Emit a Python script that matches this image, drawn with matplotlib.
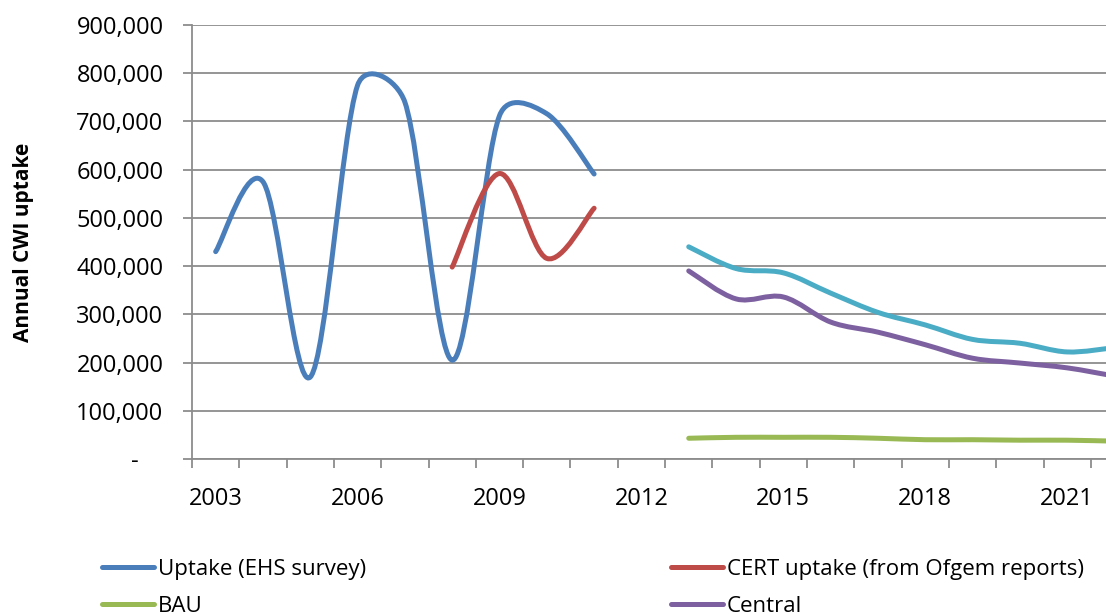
import numpy as np
import matplotlib
matplotlib.use("Agg")
import matplotlib.pyplot as plt
from matplotlib.path import Path
from matplotlib.patches import PathPatch
from matplotlib.lines import Line2D
from matplotlib.ticker import FuncFormatter, MultipleLocator, FixedLocator

plt.rcParams['font.family'] = ['Open Sans', 'DejaVu Sans']

# annual cavity wall insulation uptake
years_ehs = [2003, 2004, 2005, 2006, 2007, 2008, 2009, 2010, 2011]
uptake_ehs = [430000, 575000, 170000, 775000, 740000, 205000, 712000, 716000, 591000]

years_cert = [2008, 2009, 2010, 2011]
uptake_cert = [398000, 592000, 416000, 520000]

years_proj = [2013, 2014, 2015, 2016, 2017, 2018, 2019, 2020, 2021, 2022]
uptake_high = [440000, 395000, 386000, 344000, 304000, 278000, 248000, 240000, 222000, 231000]
uptake_central = [390000, 332000, 336000, 284000, 263000, 237000, 209000, 199000, 189000, 172000]
uptake_bau = [43000, 45000, 45000, 45000, 43000, 40000, 40000, 39000, 39000, 37000]

year_labels = [2003, 2006, 2009, 2012, 2015, 2018, 2021]

C_BLUE = '#4a7ebb'
C_RED = '#be4b48'
C_GREEN = '#98b954'
C_PURPLE = '#7d60a0'
C_CYAN = '#4bacc6'
GRID = '#8c8c8c'

fig = plt.figure(figsize=(11.06, 6.14), dpi=100)
ax = fig.add_axes([192 / 1106, 1 - 459 / 614, 1 - 192 / 1106, (459 - 25) / 614])
ax.set_xlim(2002.5, 2021.82)
ax.set_ylim(0, 900000)


def smooth_path(x, y):
    """Excel-style smoothed line: cubic Beziers, control arms capped at half a segment."""
    pts = ax.transData.transform(np.column_stack([x, y]).astype(float))
    n = len(pts)
    verts = [pts[0]]
    codes = [Path.MOVETO]
    for i in range(n - 1):
        p0 = pts[max(i - 1, 0)]
        p1 = pts[i]
        p2 = pts[i + 1]
        p3 = pts[min(i + 2, n - 1)]
        seg = np.hypot(*(p2 - p1))
        t1 = p2 - p0
        t2 = p3 - p1
        l1 = np.hypot(*t1)
        l2 = np.hypot(*t2)
        f1 = min(1 / 6, 0.5 * seg / l1) if l1 > 0 else 0
        f2 = min(1 / 6, 0.5 * seg / l2) if l2 > 0 else 0
        verts += [p1 + t1 * f1, p2 - t2 * f2, p2]
        codes += [Path.CURVE4] * 3
    verts = ax.transData.inverted().transform(np.array(verts))
    return Path(verts, codes)


def draw_series(x, y, color):
    patch = PathPatch(smooth_path(x, y), facecolor='none', edgecolor=color,
                      lw=3.6, capstyle='round', joinstyle='round', zorder=3)
    ax.add_patch(patch)


# gridlines and axes
ax.yaxis.set_major_locator(MultipleLocator(100000))
ax.grid(axis='y', color=GRID, lw=1.3)
ax.set_axisbelow(True)
for s in ['top', 'right']:
    ax.spines[s].set_visible(False)
for s in ['left', 'bottom']:
    ax.spines[s].set_color(GRID)
    ax.spines[s].set_linewidth(1.3)

ax.yaxis.set_major_formatter(FuncFormatter(lambda v, p: '-    ' if v == 0 else f'{v:,.0f}'))
ax.tick_params(axis='y', length=6.5, width=1.3, color=GRID, pad=14,
               labelsize=17, labelcolor='#000000')

ax.xaxis.set_major_locator(FixedLocator(year_labels))
ax.xaxis.set_minor_locator(FixedLocator(np.arange(2002.5, 2022.5, 1.0)))
ax.tick_params(axis='x', which='major', length=0, pad=20, labelsize=17)
ax.tick_params(axis='x', which='minor', length=6.5, width=1.3, color=GRID)

ax.set_ylabel('Annual CWI uptake', fontsize=15, fontweight='bold')
ax.yaxis.set_label_coords(-0.173, 0.5)

draw_series(years_ehs, uptake_ehs, C_BLUE)
draw_series(years_cert, uptake_cert, C_RED)
draw_series(years_proj, uptake_high, C_CYAN)
draw_series(years_proj, uptake_central, C_PURPLE)
draw_series(years_proj, uptake_bau, C_GREEN)


# legend, two columns
def handle(color, label):
    return Line2D([], [], color=color, lw=3.6, solid_capstyle='round', label=label)


leg_kw = dict(frameon=False, fontsize=16, handlelength=2.35, handletextpad=0.15,
              labelspacing=0.72, borderaxespad=0, borderpad=0, loc='upper left')
fig.legend(handles=[handle(C_BLUE, 'Uptake (EHS survey)'), handle(C_GREEN, 'BAU')],
           bbox_to_anchor=(102 / 1106, 1 - 559 / 614), **leg_kw)
fig.legend(handles=[handle(C_RED, 'CERT uptake (from Ofgem reports)'), handle(C_PURPLE, 'Central')],
           bbox_to_anchor=(671 / 1106, 1 - 559 / 614), **leg_kw)

fig.savefig('out.png', dpi=100)
